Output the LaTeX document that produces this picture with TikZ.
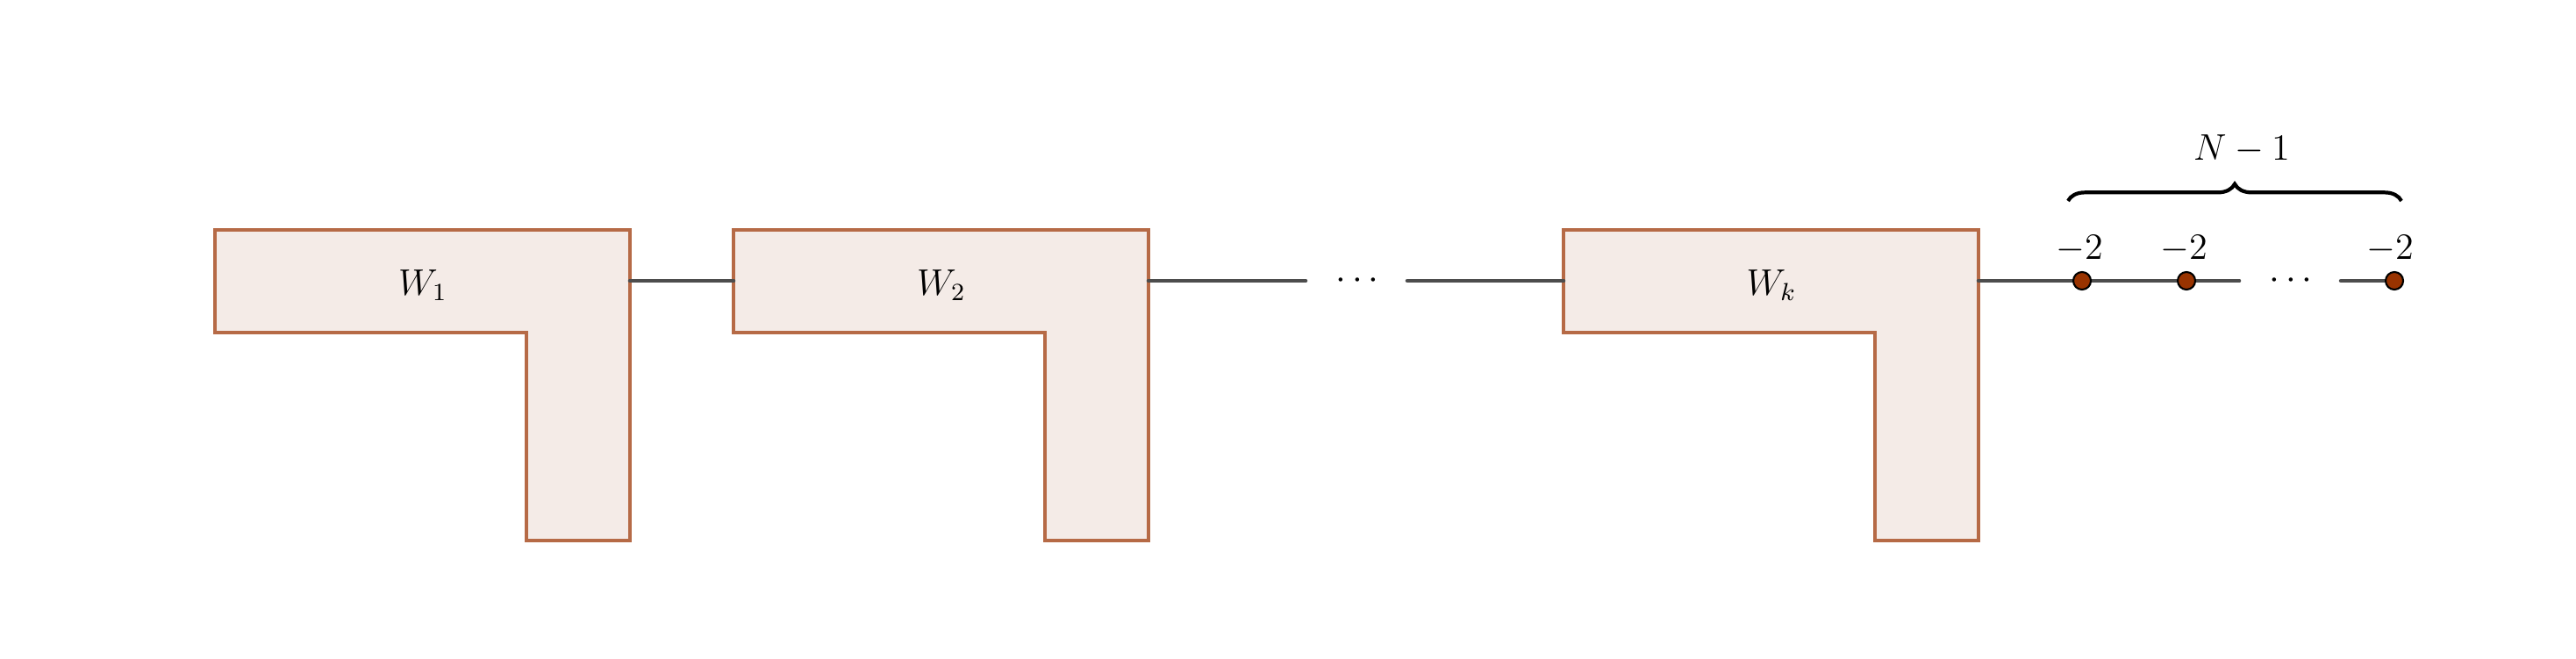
\documentclass[tikz,border=0pt]{standalone}
\usepackage{color}
\usepackage{tikz}
\usetikzlibrary{decorations.pathreplacing}
\definecolor{edgebrown}{RGB}{182,106,70}
\definecolor{fillbrown}{RGB}{244,235,231}
\definecolor{dotbrown}{RGB}{153,51,0}
\definecolor{linegray}{RGB}{77,77,77}
\begin{document}
\begin{tikzpicture}[
  wblock/.style={draw=edgebrown,fill=fillbrown,line width=1.25pt},
  chain/.style={draw=linegray,line width=1.3pt,line cap=round},
  vertex/.style={circle,draw=black,fill=dotbrown,inner sep=0pt,minimum size=0.2cm,line width=0.6pt},
  every node/.style={font=\large}]
\useasboundingbox (0,0) rectangle (29.36,-7.51);
\filldraw [wblock] (2.45,-2.62) -- (7.18,-2.62) -- (7.18,-6.16) -- (6.00,-6.16) -- (6.00,-3.79) -- (2.45,-3.79) -- cycle;
\filldraw [wblock] (8.36,-2.62) -- (13.09,-2.62) -- (13.09,-6.16) -- (11.91,-6.16) -- (11.91,-3.79) -- (8.36,-3.79) -- cycle;
\filldraw [wblock] (17.82,-2.62) -- (22.55,-2.62) -- (22.55,-6.16) -- (21.37,-6.16) -- (21.37,-3.79) -- (17.82,-3.79) -- cycle;
\node (w1) at (4.82,-3.25) {$W_1$};
\node (w2) at (10.73,-3.25) {$W_2$};
\node (wk) at (20.19,-3.25) {$W_k$};
\coordinate (a) at (7.18,-3.20);
\coordinate (b) at (8.36,-3.20);
\coordinate (c) at (13.09,-3.20);
\coordinate (d) at (14.88,-3.20);
\coordinate (e) at (16.04,-3.20);
\coordinate (f) at (17.82,-3.20);
\coordinate (g) at (22.55,-3.20);
\coordinate (h) at (25.52,-3.20);
\coordinate (i) at (26.68,-3.20);
\coordinate (j) at (27.29,-3.20);
\node (dots1) at (15.47,-3.20) {$\cdots$};
\node (dots2) at (26.11,-3.20) {$\cdots$};
\draw [chain] (a) -- (b);
\draw [chain] (c) -- (d);
\draw [chain] (e) -- (f);
\draw [chain] (g) -- (h);
\draw [chain] (i) -- (j);
\node (v1) at (23.73,-3.20) [vertex] {};
\node (v2) at (24.92,-3.20) [vertex] {};
\node (vn) at (j) [vertex] {};
\node (l1) at (23.70,-2.84) {$-2$};
\node (l2) at (24.89,-2.84) {$-2$};
\node (ln) at (27.24,-2.84) {$-2$};
\draw [line width=1.2pt,decorate,decoration={brace,amplitude=5.5pt}] (23.57,-2.29) -- (27.37,-2.29);
\node (n) at (25.55,-1.70) {$N-1$};
\end{tikzpicture}
\end{document}
